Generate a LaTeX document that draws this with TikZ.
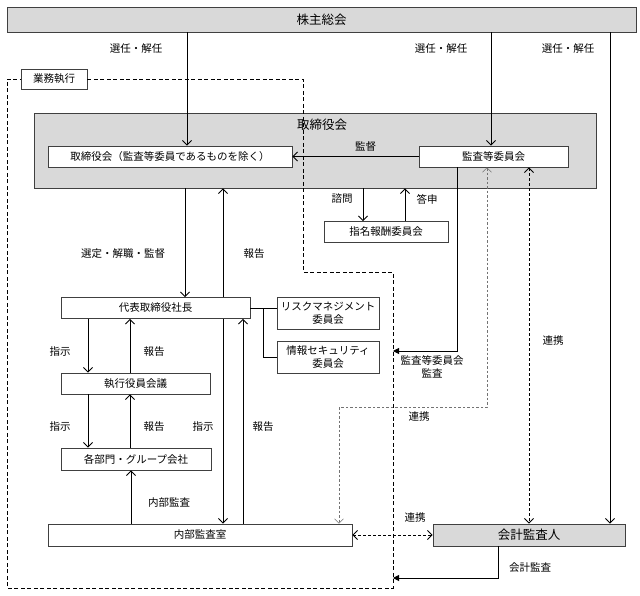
\documentclass[tikz,border=0pt]{standalone}
\usepackage{fontspec}
\setmainfont{Noto Sans CJK JP}
\usetikzlibrary{arrows.meta}

\definecolor{boxgray}{RGB}{217,217,217}
\tikzset{
  box/.style={draw=black!75,fill=white,line width=0.8pt,inner sep=0pt,align=center,
    font=\fontsize{10.5}{13}\selectfont},
  graybox/.style={box,fill=boxgray,font=\fontsize{12.5}{15}\selectfont},
  lbl/.style={inner sep=0pt,font=\fontsize{10.5}{13}\selectfont},
  arr/.style={line width=0.9pt,-{Straight Barb[length=4.5pt,width=9pt]}},
  twoarr/.style={line width=0.9pt,{Straight Barb[length=4.5pt,width=9pt]}-{Straight Barb[length=4.5pt,width=9pt]}},
  audit/.style={line width=0.9pt,-{Triangle[length=6pt,width=6pt]}},
  linkdash/.style={twoarr,dash pattern=on 3pt off 2pt},
  lightdash/.style={draw=black!55,line width=0.5pt,dash pattern=on 2.5pt off 2pt,
    {Straight Barb[length=4.5pt,width=9pt]}-{Straight Barb[length=4.5pt,width=9pt]}},
  region/.style={line width=1pt,dash pattern=on 4pt off 2.5pt}
}

\begin{document}
\begin{tikzpicture}[x=1pt,y=-1pt]
\fill[white] (0,0) rectangle (640,595);
\useasboundingbox (0,0) rectangle (640,595);

\node[graybox,minimum width=629pt,minimum height=25pt] (soukai) at (321.5,19.5) {株主総会};
\node[graybox,minimum width=562pt,minimum height=75pt] (torikai) at (315,150.5) {};
\node[lbl,font=\fontsize{12.5}{15}\selectfont] (torititle) at (322,125) {取締役会};

\node[box,minimum width=66pt,minimum height=20pt] (gyomu) at (54,79) {業務執行};
\draw[region] (gyomu.east) -- (303,79) -- (303,272) -- (393,272) -- (393,588)
  -- (7,588) -- (7,79) -- (gyomu.west);

\node[box,minimum width=244pt,minimum height=21pt] (tori) at (170,156.5) {取締役会（監査等委員であるものを除く）};
\node[box,minimum width=149pt,minimum height=21pt] (kansa) at (493.5,156.5) {監査等委員会};
\node[box,minimum width=124pt,minimum height=21pt] (shimei) at (386,232) {指名報酬委員会};
\node[box,minimum width=189pt,minimum height=21pt] (daihyo) at (155.5,308) {代表取締役社長};
\node[box,minimum width=102pt,minimum height=32pt] (risk) at (328,313) {リスクマネジメント\\委員会};
\node[box,minimum width=102pt,minimum height=32pt] (joho) at (328,357) {情報セキュリティ\\委員会};
\node[box,minimum width=149pt,minimum height=21pt] (shikko) at (135.5,383.5) {執行役員会議};
\node[box,minimum width=150pt,minimum height=22pt] (kakubu) at (136,459) {各部門・グループ会社};
\node[box,minimum width=304pt,minimum height=22pt] (naibu) at (200,535) {内部監査室};
\node[graybox,minimum width=192pt,minimum height=22pt] (kaikei) at (529,535) {会計監査人};

\coordinate (kansaend) at (393,351);
\coordinate (kaikeiend) at (393,578);

\draw[arr] (soukai.south -| 187,0) -- (tori.north -| 187,0);
\draw[arr] (soukai.south -| 491,0) -- (kansa.north -| 491,0);
\draw[arr] (soukai.south -| 610,0) -- (kaikei.north -| 610,0);
\node[lbl] (sn1) at (136,49) {選任・解任};
\node[lbl] (sn2) at (441,49) {選任・解任};
\node[lbl] (sn3) at (568,49) {選任・解任};

\draw[arr] (kansa.west) -- (tori.east) node[lbl,pos=0.42,above=5pt] {監督};
\draw[arr] (torikai.south -| 363,0) -- (shimei.north -| 363,0);
\draw[arr] (shimei.north -| 405,0) -- (torikai.south -| 405,0);
\node[lbl] (shimon) at (342,199) {諮問};
\node[lbl] (toshin) at (427,199) {答申};

\draw[arr] (torikai.south -| 185,0) -- (daihyo.north -| 185,0);
\draw[arr] (daihyo.north -| 223,0) -- (torikai.south -| 223,0);
\node[lbl] (sentei) at (123,254) {選定・解職・監督};
\node[lbl] (hokoku1) at (254,254) {報告};

\draw[audit] (kansa.south -| 457,0) |- (kansaend);
\node[lbl,align=center] (kansalbl) at (432,367) {監査等委員会\\監査};
\draw[lightdash] (kansa.south -| 487,0) |- (339,407) -- (naibu.north -| 339,0);
\node[lbl] (renkei1) at (419,417) {連携};
\draw[linkdash] (kansa.south -| 529,0) -- (kaikei.north -| 529,0);
\node[lbl] (renkei2) at (553,341) {連携};

\draw[line width=0.9pt] (daihyo.east) -- (daihyo.east -| risk.west);
\draw[line width=0.9pt] (daihyo.east -| 263,0) |- (joho.west);

\draw[arr] (daihyo.south -| 88,0) -- (shikko.north -| 88,0);
\draw[arr] (shikko.north -| 130,0) -- (daihyo.south -| 130,0);
\node[lbl] (shiji1) at (60,352) {指示};
\node[lbl] (hokoku2) at (154,352) {報告};
\draw[arr] (shikko.south -| 88,0) -- (kakubu.north -| 88,0);
\draw[arr] (kakubu.north -| 130,0) -- (shikko.south -| 130,0);
\node[lbl] (shiji2) at (60,427) {指示};
\node[lbl] (hokoku3) at (154,427) {報告};

\draw[arr] (daihyo.south -| 223,0) -- (naibu.north -| 223,0);
\draw[arr] (naibu.north -| 243,0) -- (daihyo.south -| 243,0);
\node[lbl] (shiji3) at (203,427) {指示};
\node[lbl] (hokoku4) at (263,427) {報告};

\draw[arr] (naibu.north -| 131,0) -- (kakubu.south -| 131,0);
\node[lbl] (naibulbl) at (169,503) {内部監査};

\draw[linkdash] (naibu.east) -- (kaikei.west);
\node[lbl] (renkei3) at (415,518) {連携};
\draw[audit] (kaikei.south -| 498,0) |- (kaikeiend);
\node[lbl] (kaikeilbl) at (530,568) {会計監査};
\end{tikzpicture}
\end{document}
